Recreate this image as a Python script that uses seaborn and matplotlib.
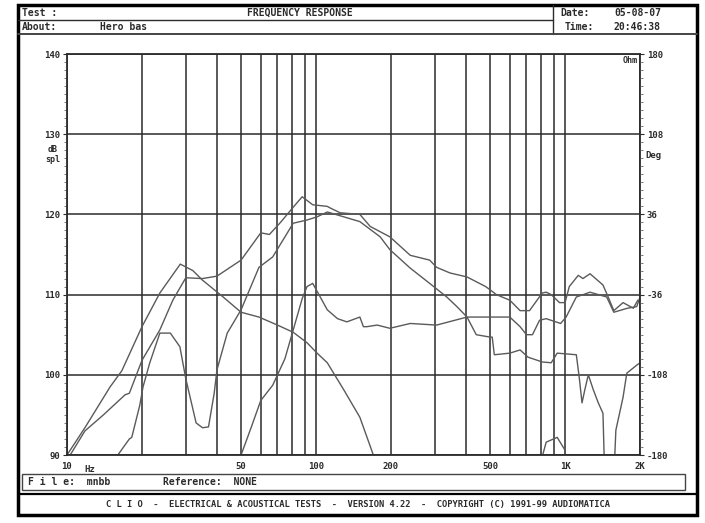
import matplotlib
matplotlib.use('Agg')
import matplotlib.pyplot as plt
from matplotlib.lines import Line2D
from matplotlib.patches import Rectangle
from matplotlib.ticker import FixedLocator, MultipleLocator, NullFormatter
import seaborn as sns
import pandas as pd

# --- data (Hz, dB spl) ---
woofer_freq = [10, 11.8, 14.9, 16.6, 20, 23.6, 28.5, 32, 35, 42, 50, 59, 70, 81, 92, 101, 111, 130, 150, 169, 180]
woofer_spl = [90, 93.4, 98.5, 100.5, 106, 110.2, 113.8, 113, 111.8, 109.8, 107.8, 107.2, 106.2, 105.3, 104, 102.7,
              101.5, 98, 94.7, 90.2, 86]
woofer_hi_freq = [780, 810, 840, 930, 960, 1000, 1020]
woofer_hi_spl = [86, 89.8, 91.6, 92.2, 91.5, 90.6, 86]

sum_freq = [10.3, 11.8, 14, 17.1, 17.8, 20, 23.6, 26.6, 30, 35, 40, 50, 60, 65, 72, 81, 88, 97, 111, 114, 125,
            150, 165, 198, 239, 286, 305, 345, 404, 480, 500, 530, 600, 660, 720, 810, 840, 880, 950, 1000, 1040,
            1130, 1180, 1260, 1420, 1490, 1570, 1710, 1880, 1960, 2000]
sum_spl = [90, 93, 95, 97.5, 97.7, 101.8, 105.6, 109.3, 112.1, 112, 112.3, 114.3, 117.7, 117.5, 119, 120.9, 122.2,
           121.2, 121, 120.8, 120.2, 120, 118.5, 117.2, 114.9, 114.3, 113.4, 112.7, 112.2, 111, 110.6, 110, 109.3,
           108, 108, 110.2, 110.3, 110, 109, 109, 111, 112.4, 112, 112.6, 111.2, 109.7, 108, 109, 108.3, 109.3, 109]

alt_freq = [16, 17.8, 18.2, 19.6, 20.2, 21.5, 23.6, 26, 28.4, 30, 33, 35, 37, 39, 40, 44, 50, 59, 67, 81, 92, 101,
            111, 114, 150, 181, 198, 239, 286, 335, 368, 404, 440, 500, 510, 520, 600, 660, 710, 810, 880, 930, 1110,
            1140, 1170, 1200, 1240, 1300, 1360, 1420, 1450, 1560, 1600, 1710, 1770, 1940, 2000]
alt_spl = [90, 92, 92.2, 96.2, 98.5, 101.5, 105.2, 105.2, 103.5, 99.5, 94, 93.4, 93.5, 97.7, 100.6, 105.2, 108.1,
           113.4, 114.7, 118.9, 119.3, 119.7, 120.3, 120.2, 119.1, 117.2, 115.6, 113.3, 111.4, 109.7, 108.5, 107.2,
           105, 104.7, 104.7, 102.5, 102.7, 103.1, 102.2, 101.6, 101.5, 102.7, 102.5, 99.7, 96.5, 98.1, 100, 98.1,
           96.5, 95.2, 85, 85, 93.1, 97.2, 100.2, 101.2, 101.5]

mid_freq = [50, 55, 60, 67, 75, 81, 88, 92, 97, 111, 122, 133, 150, 155, 160, 176, 198, 239, 305, 404, 500, 600,
            660, 700, 740, 790, 840, 960, 1010, 1110, 1260, 1470, 1570, 1780, 1940, 2000]
mid_spl = [90, 93.5, 96.8, 98.7, 102, 105.6, 109.5, 111, 111.4, 108.1, 107, 106.6, 107.2, 106, 106, 106.2, 105.8,
           106.4, 106.2, 107.2, 107.2, 107.2, 106, 105, 105, 106.8, 107, 106.4, 107.2, 109.7, 110.3, 109.7, 107.8,
           108.3, 108.5, 109.7]

x_ticks = [10, 50, 100, 200, 500, 1000, 2000]
x_tick_labels = ['10', '50', '100', '200', '500', '1K', '2K']
x_grid = [20, 30, 40, 60, 70, 80, 90, 300, 400, 600, 700, 800, 900]
spl_ticks = [90, 100, 110, 120, 130, 140]
deg_ticks = [-180, -108, -36, 36, 108, 180]

W, H = 705, 523
INK = '#2b2b2b'
TRACE = '#5a5a5a'


def fx(x):
    return x / W


def fy(y):
    return 1 - y / H


def hline(fig, x0, x1, y, lw=1.0, color=INK):
    fig.add_artist(Line2D([fx(x0), fx(x1)], [fy(y), fy(y)], color=color, lw=lw))


def vline(fig, x, y0, y1, lw=1.0, color=INK):
    fig.add_artist(Line2D([fx(x), fx(x)], [fy(y0), fy(y1)], color=color, lw=lw))


sns.set_style('white')
plt.rcParams['font.family'] = ['DejaVu Sans Mono']
plt.rcParams['font.weight'] = 'bold'

segs = [('woofer', woofer_freq, woofer_spl), ('woofer_hi', woofer_hi_freq, woofer_hi_spl),
        ('sum', sum_freq, sum_spl), ('alt', alt_freq, alt_spl), ('mid', mid_freq, mid_spl)]
df = pd.concat([pd.DataFrame({'freq': f, 'spl': s, 'seg': n}) for n, f, s in segs], ignore_index=True)

fig = plt.figure(figsize=(W / 100, H / 100), dpi=100)
ax = fig.add_axes([fx(67), fy(455), (640 - 67) / W, (455 - 54) / H])
ax.set_xscale('log')

sns.lineplot(data=df, x='freq', y='spl', units='seg', estimator=None, sort=False,
             color=TRACE, lw=1.0, ax=ax, legend=False)

ax.set_xlim(10, 2000)
ax.set_ylim(90, 140)
ax.xaxis.set_major_locator(FixedLocator(x_ticks))
ax.xaxis.set_minor_locator(FixedLocator(x_grid))
ax.xaxis.set_minor_formatter(NullFormatter())
ax.set_xticklabels(x_tick_labels)
ax.set_yticks(spl_ticks)
ax.yaxis.set_minor_locator(MultipleLocator(1))
ax.xaxis.grid(True, which='both', color=INK, lw=1.1)
ax.yaxis.grid(True, which='major', color=INK, lw=1.1)
ax.set_axisbelow(True)
ax.set_xlabel('')
ax.set_ylabel('')
for sp in ax.spines.values():
    sp.set_color(INK)
    sp.set_linewidth(1.3)
ax.tick_params(axis='both', which='major', direction='out', length=3, width=0.8, colors=INK,
               labelsize=6.5, pad=2)
ax.tick_params(axis='y', which='minor', direction='out', length=2, width=0.6, color='#666')
ax.tick_params(axis='x', which='minor', direction='out', length=3, width=0.8, color=INK)

ax2 = ax.twinx()
ax2.set_ylim(-180, 180)
ax2.set_yticks(deg_ticks)
ax2.set_yticklabels([str(v) for v in deg_ticks])
ax2.yaxis.set_minor_locator(MultipleLocator(7.2))
ax2.tick_params(axis='y', which='major', direction='out', length=3, width=0.8, colors=INK,
                labelsize=6.5, pad=2)
ax2.tick_params(axis='y', which='minor', direction='out', length=2, width=0.6, color='#666')
for sp in ax2.spines.values():
    sp.set_visible(False)

ax.text(0.03, -0.025, 'Hz', transform=ax.transAxes, ha='left', va='top', fontsize=6.5, color=INK)
ax.text(0.995, 0.995, 'Ohm', transform=ax.transAxes, ha='right', va='top', fontsize=6, color=INK,
        bbox=dict(facecolor='white', edgecolor='none', pad=0.5))
fig.text(fx(53), fy(150), 'dB', ha='center', va='center', fontsize=6, color=INK)
fig.text(fx(53), fy(160), 'spl', ha='center', va='center', fontsize=6, color=INK)
fig.text(fx(645), fy(156), 'Deg', ha='left', va='center', fontsize=6.5, color=INK)

# frame, header and footer of the CLIO print-out
fig.add_artist(Rectangle((fx(18), fy(515)), (697 - 18) / W, (515 - 5) / H, fill=False,
                         edgecolor='black', lw=2.5))
hline(fig, 18, 553, 20, lw=1.0)
vline(fig, 553, 5, 34, lw=1.0)
hline(fig, 18, 697, 34, lw=1.4, color='#444')
fs = 7
fig.text(fx(22), fy(13), 'Test :', ha='left', va='center', fontsize=fs, color=INK)
fig.text(fx(300), fy(13), 'FREQUENCY RESPONSE', ha='center', va='center', fontsize=fs, color=INK)
fig.text(fx(22), fy(27), 'About:', ha='left', va='center', fontsize=fs, color=INK)
fig.text(fx(100), fy(27), 'Hero bas', ha='left', va='center', fontsize=fs, color=INK)
fig.text(fx(560), fy(13), 'Date:', ha='left', va='center', fontsize=fs, color=INK)
fig.text(fx(614), fy(13), '05-08-07', ha='left', va='center', fontsize=fs, color=INK)
fig.text(fx(565), fy(27), 'Time:', ha='left', va='center', fontsize=fs, color=INK)
fig.text(fx(614), fy(27), '20:46:38', ha='left', va='center', fontsize=fs, color=INK)

fig.add_artist(Rectangle((fx(22), fy(490)), (685 - 22) / W, (490 - 474) / H, fill=False,
                         edgecolor='#444', lw=1.0))
fig.text(fx(28), fy(482), 'F i l e:  mnbb', ha='left', va='center', fontsize=fs, color=INK)
fig.text(fx(163), fy(482), 'Reference:  NONE', ha='left', va='center', fontsize=fs, color=INK)
hline(fig, 18, 697, 494, lw=1.6, color='black')
fig.text(fx(358), fy(504),
         'C L I O  -  ELECTRICAL & ACOUSTICAL TESTS  -  VERSION 4.22  -  COPYRIGHT (C) 1991-99 AUDIOMATICA',
         ha='center', va='center', fontsize=6.3, color=INK)

fig.savefig('out.png', dpi=100)
plt.close(fig)
